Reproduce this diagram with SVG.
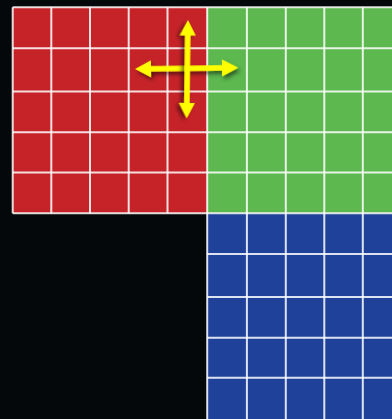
<svg xmlns="http://www.w3.org/2000/svg" width="392" height="419" viewBox="0 0 392 419">
<defs>
<style>
.g{stroke:#ffffff;stroke-opacity:0.85;stroke-width:2;fill:none}
.arr{fill:#ffff00;filter:url(#sh)}
</style>
<filter id="sh" x="-20%" y="-20%" width="150%" height="150%">
<feDropShadow dx="2" dy="3" stdDeviation="2" flood-color="#000" flood-opacity="0.55"/>
</filter>
</defs>
<rect x="0" y="0" width="392" height="419" fill="#05080a"/>
<g id="red">
<rect x="12.7" y="7.3" width="194.5" height="206" fill="#c62329"/>
</g>
<g id="green">
<rect x="207" y="7.3" width="185" height="206" fill="#5cb84f"/>
</g>
<g id="blue">
<rect x="207" y="213.3" width="185" height="206" fill="#1f419a"/>
</g>
<g id="grid" class="g">
<path d="M12.7 7.3V213.3M51.3 7.3V213.3M90 7.3V213.3M128.7 7.3V213.3M167.5 7.3V213.3"/>
<path d="M207.2 7.3V419M246.9 7.3V419M285.8 7.3V419M324.3 7.3V419M362.8 7.3V419"/>
<path d="M12.7 7.3H392M12.7 48.3H392M12.7 91.5H392M12.7 132.3H392M12.7 172.5H392M12.7 213.3H392"/>
<path d="M207.2 254H392M207.2 297H392M207.2 337.7H392M207.2 377.7H392"/>
</g>
<g id="arrows">
<polygon class="arr" transform="translate(135,69) rotate(-0.72)" points="0,0 16,-8.5 16,-2.8 87,-2.8 87,-8.5 103.3,0 87,8.5 87,2.8 16,2.8 16,8.5"/>
<polygon class="arr" transform="translate(188,20) rotate(90.76)" points="0,0 15.5,-8 15.5,-2.8 83,-2.8 83,-8 98.3,0 83,8 83,2.8 15.5,2.8 15.5,8"/>
</g>
</svg>
